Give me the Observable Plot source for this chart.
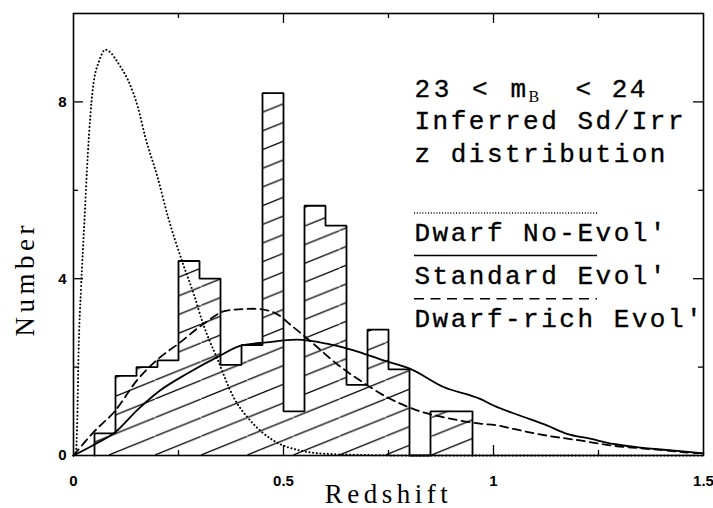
<!DOCTYPE html>
<html><head><meta charset="utf-8">
<script src="https://cdn.jsdelivr.net/npm/d3@7"></script>
<script src="https://cdn.jsdelivr.net/npm/@observablehq/plot@0.6"></script>
<style>html,body{margin:0;padding:0;background:#fff;}</style>
</head><body><div id="chart"></div>
<script>
// ---------------- data ----------------
const binStarts = [0.05,0.10,0.15,0.20,0.25,0.30,0.35,0.40,0.45,0.50,0.55,0.60,0.65,0.70,0.75,0.80,0.85,0.90];
const binWidth = 0.05;
const binCounts = [0.5,1.8,2.0,2.15,4.4,4.0,2.05,2.5,8.2,1.0,5.65,5.2,1.6,2.85,1.95,0,1.0,1.0];

// Dwarf No-Evol' (dotted)
const noEvolZ = [0,0.006,0.009,0.012,0.018,0.026,0.034,0.046,0.062,0.076,0.09,0.102,0.115,0.13,0.153,0.171,0.2,0.225,0.258,0.286,0.31,0.341,0.381,0.421,0.476,0.54,0.6,0.7,0.8,1.0,1.5];
const noEvolN = [0,0.1,0.8,2.3,3.8,5.3,6.8,8.3,8.95,9.18,9.1,8.94,8.75,8.49,7.89,7.2,6.3,5.4,4.41,3.66,2.94,2.22,1.32,0.79,0.34,0.11,0.04,0.01,0,0,0];

// Standard Evol' (solid)
const stdEvolZ = [0,0.05,0.1,0.151,0.206,0.27,0.341,0.401,0.46,0.532,0.603,0.667,0.738,0.802,0.881,0.968,1.0,1.064,1.127,1.175,1.23,1.286,1.341,1.405,1.476,1.5];
const stdEvolN = [0,0.25,0.53,1.02,1.47,1.85,2.22,2.49,2.56,2.62,2.53,2.38,2.15,1.96,1.55,1.28,1.13,0.9,0.68,0.49,0.38,0.26,0.19,0.13,0.07,0.05];

// Dwarf-rich Evol' (dashed)
const richEvolZ = [0,0.048,0.1,0.151,0.206,0.25,0.31,0.365,0.429,0.476,0.524,0.571,0.627,0.682,0.746,0.81,0.921,0.968,1.01,1.048,1.127,1.206,1.286,1.341,1.405,1.476,1.5];
const richEvolN = [0,0.53,1.02,1.7,2.22,2.53,2.98,3.28,3.32,3.24,2.9,2.53,2.07,1.7,1.32,1.05,0.79,0.72,0.68,0.6,0.45,0.34,0.22,0.17,0.12,0.06,0.05];

const xTickLabels = [0, 0.5, 1, 1.5];
const xMinorTicks = [0.25, 0.75, 1.25];
const yTickLabels = [0, 4, 8];
const yMinorTicks = [2, 6];
const headParts = ["23 < m", "B", "< 24"];
const titleLines = ["Inferred Sd/Irr", "z distribution"];
const seriesNames = ["Dwarf No-Evol'", "Standard Evol'", "Dwarf-rich Evol'"];
const xLabel = "Redshift";
const yLabel = "Number";

// ---------------- layout ----------------
const W = 713, H = 508, mL = 73, mR = 10, mT = 13, mB = 53;
const xDom = [0, 1.5], yDom = [0, 10];
const pxX = (W - mL - mR) / (xDom[1] - xDom[0]);
const pxY = (H - mT - mB) / (yDom[1] - yDom[0]);
const toX = px => xDom[0] + (px - mL) / pxX;
const toY = py => yDom[0] + (H - mB - py) / pxY;

const bins = binStarts.map((s, i) => ({x0: s, x1: s + binWidth, n: binCounts[i]}));
const outline = [{x: bins[0].x0, y: 0}];
bins.forEach(b => { outline.push({x: b.x0, y: b.n}); outline.push({x: b.x1, y: b.n}); });
outline.push({x: bins[bins.length - 1].x1, y: 0});

const xMajor = xTickLabels.filter(v => v > xDom[0] && v < xDom[1]);
const yMajor = yTickLabels.filter(v => v > yDom[0] && v < yDom[1]);
const LMaj = 10, LMin = 5;

const legX = toX(414), legX2 = toX(597);
const monoFont = "Liberation Mono";
const monoSize = 26;
const monoStyle = {fontFamily: monoFont, fontSize: monoSize, fill: "black", stroke: "black", strokeWidth: 0.35, textAnchor: "start", lineAnchor: "bottom"};
const series = [
  {name: seriesNames[0], lineY: toY(212.5), textY: toY(240), dash: "1,1.8", w: 1.4},
  {name: seriesNames[1], lineY: toY(255), textY: toY(283.3), dash: null, w: 1.4},
  {name: seriesNames[2], lineY: toY(298.3), textY: toY(326.7), dash: "10,6.5", w: 1.4}
];

const tickStyle = {stroke: "black", strokeWidth: 1.3};
const tickFont = {fontFamily: "Liberation Sans", fontWeight: "bold", fontSize: 15, fill: "black"};

const svg = Plot.plot({
  width: W, height: H,
  marginLeft: mL, marginRight: mR, marginTop: mT, marginBottom: mB,
  x: {domain: xDom, axis: null},
  y: {domain: yDom, axis: null},
  style: {background: "white", color: "black"},
  marks: [
    Plot.rectY(bins, {x1: "x0", x2: "x1", y1: 0, y2: "n", fill: "url(#hatch)", inset: 0}),
    Plot.line(outline, {x: "x", y: "y", stroke: "black", strokeWidth: 1.8, strokeLinejoin: "miter"}),
    Plot.line(noEvolZ, {x: noEvolZ, y: noEvolN, curve: "monotone-x", stroke: "black", strokeWidth: 2, strokeDasharray: "0.1,3.6", strokeLinecap: "round"}),
    Plot.line(stdEvolZ, {x: stdEvolZ, y: stdEvolN, curve: "monotone-x", stroke: "black", strokeWidth: 1.8}),
    Plot.line(richEvolZ, {x: richEvolZ, y: richEvolN, curve: "monotone-x", stroke: "black", strokeWidth: 1.8, strokeDasharray: "8,5"}),
    Plot.frame({stroke: "black", strokeWidth: 1.6}),
    // ticks (inward, all four sides)
    Plot.ruleX(xMajor, {x: d => d, y1: yDom[0], y2: yDom[0] + LMaj / pxY, ...tickStyle}),
    Plot.ruleX(xMinorTicks, {x: d => d, y1: yDom[0], y2: yDom[0] + LMin / pxY, ...tickStyle}),
    Plot.ruleX(xMajor, {x: d => d, y1: yDom[1], y2: yDom[1] - LMaj / pxY, ...tickStyle}),
    Plot.ruleX(xMinorTicks, {x: d => d, y1: yDom[1], y2: yDom[1] - LMin / pxY, ...tickStyle}),
    Plot.ruleY(yMajor, {y: d => d, x1: xDom[0], x2: xDom[0] + LMaj / pxX, ...tickStyle}),
    Plot.ruleY(yMinorTicks, {y: d => d, x1: xDom[0], x2: xDom[0] + LMin / pxX, ...tickStyle}),
    Plot.ruleY(yMajor, {y: d => d, x1: xDom[1], x2: xDom[1] - LMaj / pxX, ...tickStyle}),
    Plot.ruleY(yMinorTicks, {y: d => d, x1: xDom[1], x2: xDom[1] - LMin / pxX, ...tickStyle}),
    // tick labels
    Plot.text(xTickLabels, {x: d => d, y: yDom[0], dy: 26, text: d => String(d), ...tickFont}),
    Plot.text(yTickLabels, {x: xDom[0], y: d => d, dx: -7, textAnchor: "end", text: d => String(d), ...tickFont}),
    // axis titles
    Plot.text([xLabel], {frameAnchor: "bottom", dy: 47, lineAnchor: "bottom", fontFamily: "Liberation Serif", fontSize: 27, fill: "black"}),
    Plot.text([yLabel], {x: xDom[0], y: 4, dx: -40, rotate: -90, lineAnchor: "bottom", fontFamily: "Liberation Serif", fontSize: 27, fill: "black"}),
    // legend heading
    Plot.text([headParts[0]], {x: legX, y: toY(96.7), ...monoStyle}),
    Plot.text([headParts[1]], {x: toX(528), y: toY(101), textAnchor: "start", lineAnchor: "bottom", fontFamily: "Liberation Serif", fontSize: 16, fill: "black"}),
    Plot.text([headParts[2]], {x: toX(575), y: toY(96.7), ...monoStyle}),
    Plot.text(titleLines, {x: legX, y: (d, i) => toY([128, 161][i]), ...monoStyle}),
    // legend entries
    ...series.map(s => Plot.ruleY([s.lineY], {x1: legX, x2: legX2, stroke: "black", strokeWidth: s.w, strokeDasharray: s.dash || undefined})),
    Plot.text(series, {x: legX, y: "textY", text: "name", ...monoStyle})
  ]
});

// hatch pattern (continuous across bars)
const ns = "http://www.w3.org/2000/svg";
const hw = 46.1, hh = 18.7;
const defs = document.createElementNS(ns, "defs");
const pat = document.createElementNS(ns, "pattern");
pat.setAttribute("id", "hatch");
pat.setAttribute("patternUnits", "userSpaceOnUse");
pat.setAttribute("x", 109);
pat.setAttribute("y", (H - mB) - hh);
pat.setAttribute("width", hw);
pat.setAttribute("height", hh);
const hp = document.createElementNS(ns, "path");
hp.setAttribute("d", `M${-hw},${2 * hh}L${2 * hw},${-hh}`);
hp.setAttribute("stroke", "black");
hp.setAttribute("stroke-width", 1.2);
hp.setAttribute("fill", "none");
pat.appendChild(hp);
defs.appendChild(pat);
svg.insertBefore(defs, svg.firstChild);

// letter spacing for the typewriter-style legend and serif titles
const monoTexts = new Set([headParts[2], ...titleLines, ...seriesNames]);
svg.querySelectorAll("text").forEach(t => {
  if (monoTexts.has(t.textContent)) t.setAttribute("letter-spacing", "2.5");
  if (t.textContent === headParts[0]) t.setAttribute("letter-spacing", "3.6");
  if (t.textContent === xLabel || t.textContent === yLabel) t.setAttribute("letter-spacing", "4.5");
});

document.getElementById("chart").appendChild(svg);
</script>
</body></html>
